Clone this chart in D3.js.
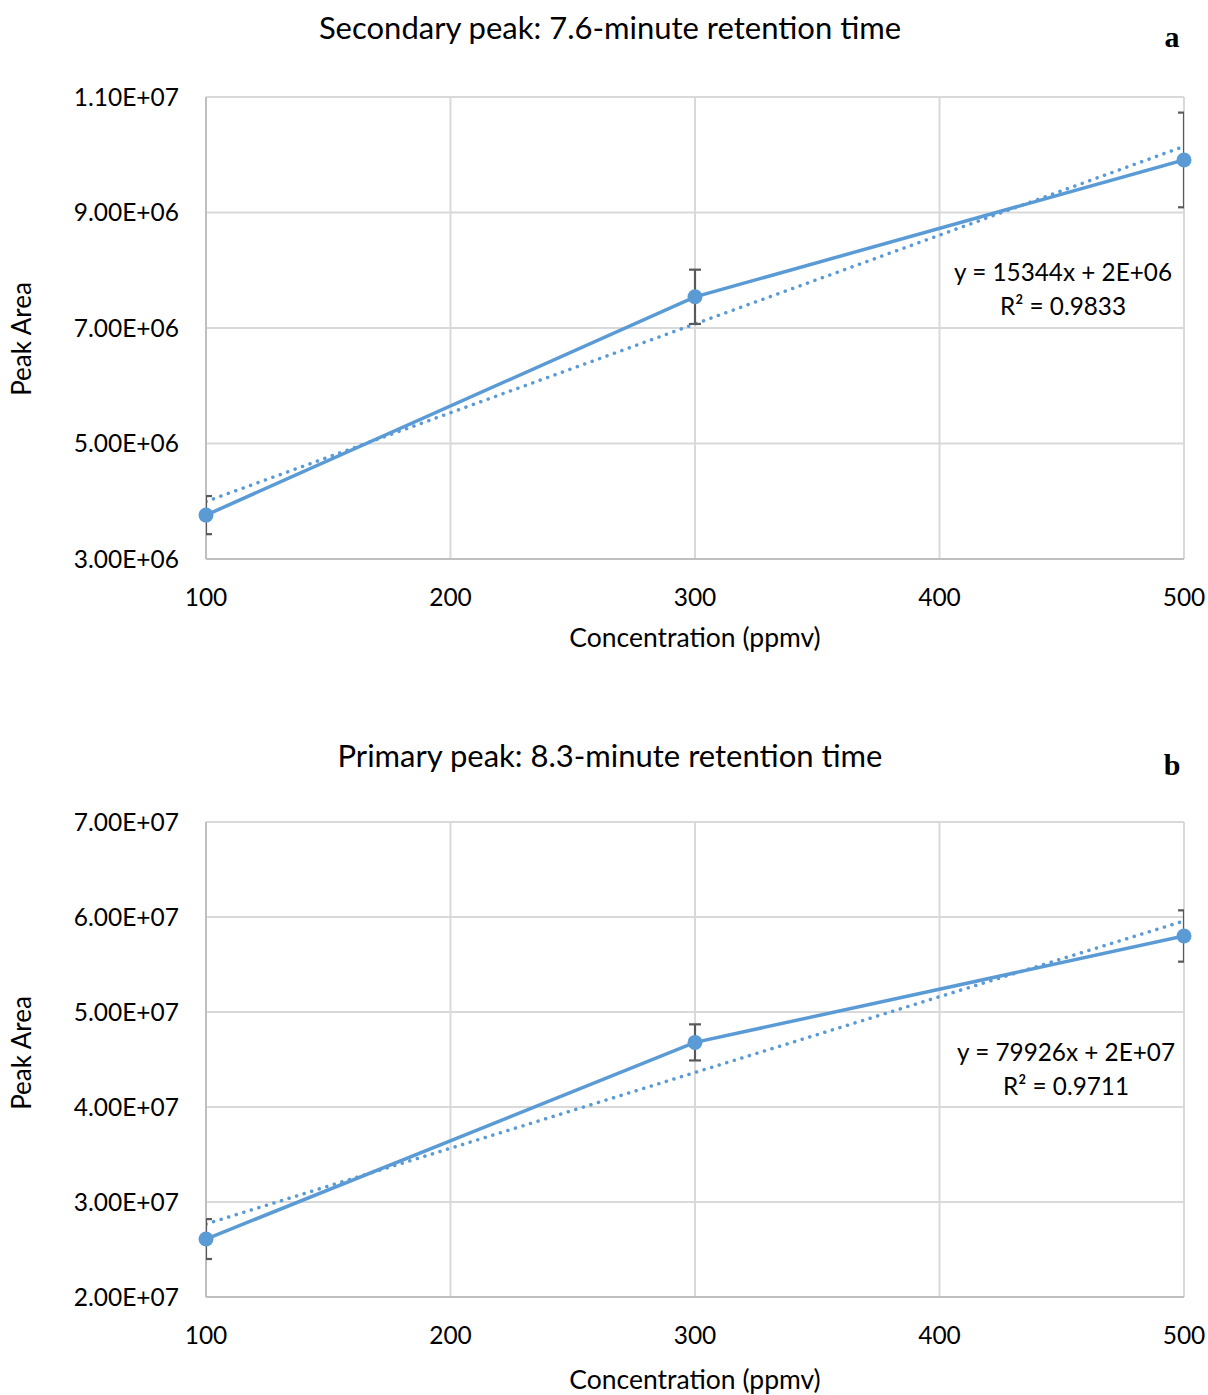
<!DOCTYPE html>
<html><head><meta charset="utf-8">
<script src="https://cdn.jsdelivr.net/npm/d3@7"></script>
<style>
body{margin:0;background:#fff;}
text{font-family:Lato,"Open Sans",sans-serif;fill:#000;}
</style></head>
<body><svg id="c" width="1208" height="1395"></svg>
<script>
// ---- data ----
const concentrations = [100, 300, 500];
const xTicks = [100, 200, 300, 400, 500];

const titleA = "Secondary peak: 7.6-minute retention time";
const areaA = [3.76e6, 7.54e6, 9.91e6];
const errA = [0.33e6, 0.47e6, 0.82e6];
const yTicksA = [3e6, 5e6, 7e6, 9e6, 11e6];
const yTickLabelsA = ["3.00E+06", "5.00E+06", "7.00E+06", "9.00E+06", "1.10E+07"];
const eqA = ["y = 15344x + 2E+06", "R\u00B2 = 0.9833"];

const titleB = "Primary peak: 8.3-minute retention time";
const areaB = [2.61e7, 4.68e7, 5.80e7];
const errB = [0.21e7, 0.19e7, 0.27e7];
const yTicksB = [2e7, 3e7, 4e7, 5e7, 6e7, 7e7];
const yTickLabelsB = ["2.00E+07", "3.00E+07", "4.00E+07", "5.00E+07", "6.00E+07", "7.00E+07"];
const eqB = ["y = 79926x + 2E+07", "R\u00B2 = 0.9711"];

const xLabel = "Concentration (ppmv)";
const yLabel = "Peak Area";

// ---- drawing ----
const svg = d3.select("#c");
const blue = "#5b9bd5";

function fit(xs, ys){
  const n = xs.length, mx = d3.mean(xs), my = d3.mean(ys);
  let sxy = 0, sxx = 0;
  for (let i=0;i<n;i++){ sxy += (xs[i]-mx)*(ys[i]-my); sxx += (xs[i]-mx)**2; }
  const b = sxy/sxx; return {b, a: my - b*mx};
}

function drawChart(o){
  const g = svg.append("g");
  const x = d3.scaleLinear().domain([100, 500]).range([o.left, o.right]);
  const y = d3.scaleLinear().domain(d3.extent(o.yTicks)).range([o.bottom, o.top]);
  const id = "clip" + o.key;
  svg.append("clipPath").attr("id", id).append("rect")
    .attr("x", o.left).attr("y", o.top).attr("width", o.right - o.left).attr("height", o.bottom - o.top);

  // gridlines
  g.append("g").selectAll("line.h").data(o.yTicks).join("line")
    .attr("x1", o.left).attr("x2", o.right).attr("y1", d => y(d)).attr("y2", d => y(d))
    .attr("stroke", "#d9d9d9").attr("stroke-width", 2);
  g.append("g").selectAll("line.v").data(xTicks).join("line")
    .attr("y1", o.top).attr("y2", o.bottom).attr("x1", d => x(d)).attr("x2", d => x(d))
    .attr("stroke", "#d9d9d9").attr("stroke-width", 2);
  // axes lines
  g.append("line").attr("x1", o.left).attr("x2", o.left).attr("y1", o.top).attr("y2", o.bottom)
    .attr("stroke", "#bfbfbf").attr("stroke-width", 2);
  g.append("line").attr("x1", o.left).attr("x2", o.right).attr("y1", o.bottom).attr("y2", o.bottom)
    .attr("stroke", "#bfbfbf").attr("stroke-width", 2);

  // tick labels
  g.append("g").selectAll("text").data(o.yTicks).join("text")
    .attr("x", o.left - 27).attr("y", d => y(d)).attr("dy", "0.35em")
    .attr("text-anchor", "end").style("font-size", "24.5px").text((d,i) => o.yLabels[i]);
  g.append("g").selectAll("text").data(xTicks).join("text")
    .attr("x", d => x(d)).attr("y", o.bottom + 38).attr("dy", "0.35em")
    .attr("text-anchor", "middle").style("font-size", "24.5px").text(d => d);

  // axis titles
  g.append("text").attr("x", x(300)).attr("y", o.xLabelY).attr("text-anchor", "middle")
    .style("font-size", "26.5px").text(xLabel);
  g.append("text").attr("transform", `translate(${31},${o.yLabelY}) rotate(-90)`)
    .attr("text-anchor", "middle").style("font-size", "26px").text(yLabel);

  // chart title
  g.append("text").attr("x", 610).attr("y", o.titleY).attr("text-anchor", "middle")
    .style("font-size", "31px").text(o.title);
  g.append("text").attr("x", 1172).attr("y", o.titleY + 8).attr("text-anchor", "middle")
    .style("font-family", "'Liberation Serif','DejaVu Serif',serif").style("font-weight", "bold")
    .style("font-size", "30px").text(o.letter);

  const pts = concentrations.map((c,i) => ({c, v: o.values[i], e: o.errs[i]}));
  const plot = g.append("g").attr("clip-path", `url(#${id})`);

  // trendline
  const f = fit(concentrations, o.values);
  plot.append("line").attr("x1", x(100)).attr("x2", x(500))
    .attr("y1", y(f.a + f.b*100)).attr("y2", y(f.a + f.b*500))
    .attr("stroke", blue).attr("stroke-width", 3.5).attr("stroke-linecap", "round")
    .attr("stroke-dasharray", "0.1 7.8");

  // error bars
  const eb = plot.append("g").attr("stroke", "#595959").attr("stroke-width", 2.2);
  pts.forEach(p => {
    eb.append("line").attr("x1", x(p.c)).attr("x2", x(p.c)).attr("y1", y(p.v - p.e)).attr("y2", y(p.v + p.e));
    [p.v - p.e, p.v + p.e].forEach(v => eb.append("line")
      .attr("x1", x(p.c) - 6).attr("x2", x(p.c) + 6).attr("y1", y(v)).attr("y2", y(v)));
  });

  // series line + markers
  plot.append("path").datum(pts)
    .attr("d", d3.line().x(d => x(d.c)).y(d => y(d.v)))
    .attr("fill", "none").attr("stroke", blue).attr("stroke-width", 3.5);
  g.append("g").selectAll("circle").data(pts).join("circle")
    .attr("cx", d => x(d.c)).attr("cy", d => y(d.v)).attr("r", 7.5).attr("fill", blue);

  // equation
  const eq = g.append("text").attr("text-anchor", "middle").style("font-size", "24.3px");
  eq.append("tspan").attr("x", o.eqX).attr("y", o.eqY).text(o.eq[0]);
  eq.append("tspan").attr("x", o.eqX).attr("y", o.eqY + 34).text(o.eq[1]);
}

drawChart({key:"a", title: titleA, letter: "a", values: areaA, errs: errA, yTicks: yTicksA, yLabels: yTickLabelsA,
  eq: eqA, left: 206, right: 1184, top: 97, bottom: 559, titleY: 39, xLabelY: 647, yLabelY: 339, eqX: 1063, eqY: 281});
drawChart({key:"b", title: titleB, letter: "b", values: areaB, errs: errB, yTicks: yTicksB, yLabels: yTickLabelsB,
  eq: eqB, left: 206, right: 1184, top: 822, bottom: 1297, titleY: 767, xLabelY: 1389, yLabelY: 1053, eqX: 1066, eqY: 1061});
</script></body></html>
